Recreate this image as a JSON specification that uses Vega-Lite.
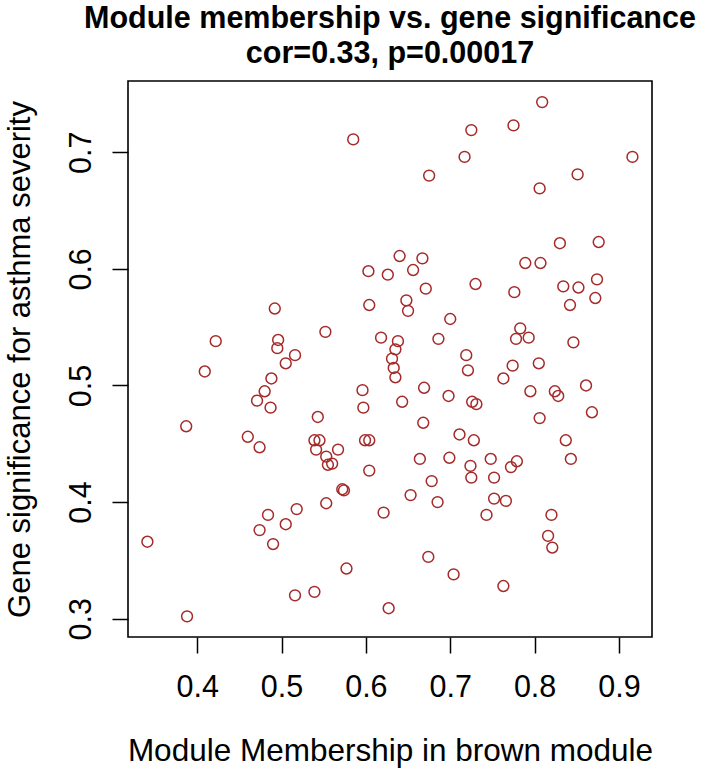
{
  "$schema": "https://vega.github.io/schema/vega-lite/v6.json",
  "width": 524,
  "height": 556,
  "autosize": {"type": "none"},
  "padding": {"left": 128, "top": 81, "right": 56, "bottom": 132},
  "background": "white",
  "config": {"view": {"stroke": "black", "strokeWidth": 1.6}, "font": "Liberation Sans"},
  "title": {
    "text": ["Module membership vs. gene significance", "cor=0.33, p=0.00017"],
    "fontSize": 30.5, "fontWeight": "bold", "font": "Liberation Sans",
    "anchor": "middle", "lineHeight": 35, "offset": 12, "color": "black"
  },
  "data": {"values": [
    {"mm":0.585,"gs":0.711},{"mm":0.809,"gs":0.743},{"mm":0.725,"gs":0.719},{"mm":0.775,"gs":0.723},{"mm":0.717,"gs":0.696},{"mm":0.916,"gs":0.696},{"mm":0.675,"gs":0.680},{"mm":0.851,"gs":0.681},{"mm":0.806,"gs":0.669},
    {"mm":0.640,"gs":0.611},{"mm":0.603,"gs":0.598},{"mm":0.626,"gs":0.595},{"mm":0.492,"gs":0.566},{"mm":0.604,"gs":0.569},{"mm":0.422,"gs":0.538},{"mm":0.552,"gs":0.546},{"mm":0.496,"gs":0.539},{"mm":0.495,"gs":0.532},{"mm":0.516,"gs":0.526},{"mm":0.505,"gs":0.519},{"mm":0.618,"gs":0.541},{"mm":0.638,"gs":0.538},{"mm":0.635,"gs":0.531},{"mm":0.631,"gs":0.523},{"mm":0.633,"gs":0.515},{"mm":0.635,"gs":0.507},{"mm":0.409,"gs":0.512},{"mm":0.488,"gs":0.506},{"mm":0.480,"gs":0.495},{"mm":0.471,"gs":0.487},{"mm":0.487,"gs":0.481},{"mm":0.596,"gs":0.496},{"mm":0.597,"gs":0.481},{"mm":0.387,"gs":0.465},{"mm":0.543,"gs":0.473},{"mm":0.460,"gs":0.456},{"mm":0.539,"gs":0.453},{"mm":0.545,"gs":0.453},{"mm":0.599,"gs":0.453},{"mm":0.604,"gs":0.453},
    {"mm":0.830,"gs":0.622},{"mm":0.876,"gs":0.623},{"mm":0.667,"gs":0.609},{"mm":0.656,"gs":0.599},{"mm":0.789,"gs":0.605},{"mm":0.807,"gs":0.605},{"mm":0.730,"gs":0.587},{"mm":0.671,"gs":0.583},{"mm":0.776,"gs":0.580},{"mm":0.834,"gs":0.585},{"mm":0.852,"gs":0.584},{"mm":0.874,"gs":0.591},{"mm":0.872,"gs":0.575},{"mm":0.842,"gs":0.569},{"mm":0.648,"gs":0.573},{"mm":0.650,"gs":0.564},{"mm":0.700,"gs":0.557},{"mm":0.686,"gs":0.540},{"mm":0.783,"gs":0.549},{"mm":0.778,"gs":0.540},{"mm":0.793,"gs":0.541},{"mm":0.846,"gs":0.537},{"mm":0.719,"gs":0.526},{"mm":0.721,"gs":0.513},{"mm":0.774,"gs":0.517},{"mm":0.763,"gs":0.506},{"mm":0.805,"gs":0.519},{"mm":0.669,"gs":0.498},{"mm":0.643,"gs":0.486},{"mm":0.698,"gs":0.491},{"mm":0.726,"gs":0.486},{"mm":0.731,"gs":0.484},{"mm":0.795,"gs":0.495},{"mm":0.824,"gs":0.495},{"mm":0.828,"gs":0.491},{"mm":0.861,"gs":0.500},{"mm":0.868,"gs":0.477},{"mm":0.806,"gs":0.472},{"mm":0.668,"gs":0.468},{"mm":0.711,"gs":0.458},{"mm":0.728,"gs":0.453},{"mm":0.837,"gs":0.453},
    {"mm":0.474,"gs":0.447},{"mm":0.541,"gs":0.445},{"mm":0.567,"gs":0.445},{"mm":0.553,"gs":0.439},{"mm":0.555,"gs":0.432},{"mm":0.560,"gs":0.433},{"mm":0.604,"gs":0.427},{"mm":0.572,"gs":0.411},{"mm":0.574,"gs":0.410},{"mm":0.621,"gs":0.391},{"mm":0.553,"gs":0.399},{"mm":0.518,"gs":0.394},{"mm":0.484,"gs":0.389},{"mm":0.474,"gs":0.376},{"mm":0.505,"gs":0.381},{"mm":0.490,"gs":0.364},{"mm":0.341,"gs":0.366},{"mm":0.577,"gs":0.343},{"mm":0.516,"gs":0.320},{"mm":0.539,"gs":0.323},{"mm":0.627,"gs":0.309},{"mm":0.388,"gs":0.302},
    {"mm":0.664,"gs":0.437},{"mm":0.699,"gs":0.438},{"mm":0.724,"gs":0.431},{"mm":0.748,"gs":0.437},{"mm":0.779,"gs":0.435},{"mm":0.772,"gs":0.430},{"mm":0.843,"gs":0.437},{"mm":0.678,"gs":0.418},{"mm":0.725,"gs":0.421},{"mm":0.752,"gs":0.421},{"mm":0.653,"gs":0.406},{"mm":0.685,"gs":0.400},{"mm":0.752,"gs":0.403},{"mm":0.766,"gs":0.401},{"mm":0.743,"gs":0.389},{"mm":0.820,"gs":0.389},{"mm":0.816,"gs":0.371},{"mm":0.821,"gs":0.361},{"mm":0.674,"gs":0.353},{"mm":0.704,"gs":0.338},{"mm":0.763,"gs":0.328}
  ]},
  "mark": {"type": "point", "shape": "circle", "filled": false, "color": "#A52A2A", "size": 118, "strokeWidth": 1.5, "opacity": 1},
  "encoding": {
    "x": {
      "field": "mm", "type": "quantitative",
      "scale": {"domain": [0.318, 0.9392], "nice": false, "zero": false},
      "axis": {
        "title": "Module Membership in brown module",
        "values": [0.4, 0.5, 0.6, 0.7, 0.8, 0.9], "format": ".1f",
        "grid": false, "domain": false,
        "tickColor": "black", "tickSize": 16, "tickWidth": 1.5,
        "labelFontSize": 30.5, "labelColor": "black", "labelFont": "Liberation Sans",
        "labelPadding": 19, "labelFlush": false, "labelOverlap": false,
        "titleFontSize": 31.5, "titleFontWeight": "normal", "titleColor": "black", "titleFont": "Liberation Sans",
        "titlePadding": 33
      }
    },
    "y": {
      "field": "gs", "type": "quantitative",
      "scale": {"domain": [0.2843, 0.7611], "nice": false, "zero": false},
      "axis": {
        "title": "Gene significance for asthma severity",
        "values": [0.3, 0.4, 0.5, 0.6, 0.7], "format": ".1f",
        "grid": false, "domain": false,
        "tickColor": "black", "tickSize": 16, "tickWidth": 1.5,
        "labelFontSize": 30.5, "labelColor": "black", "labelFont": "Liberation Sans",
        "labelAngle": -90, "labelAlign": "center", "labelBaseline": "bottom",
        "labelPadding": 15.5, "labelFlush": false, "labelOverlap": false,
        "titleFontSize": 31, "titleFontWeight": "normal", "titleColor": "black", "titleFont": "Liberation Sans",
        "titlePadding": 30
      }
    }
  }
}
